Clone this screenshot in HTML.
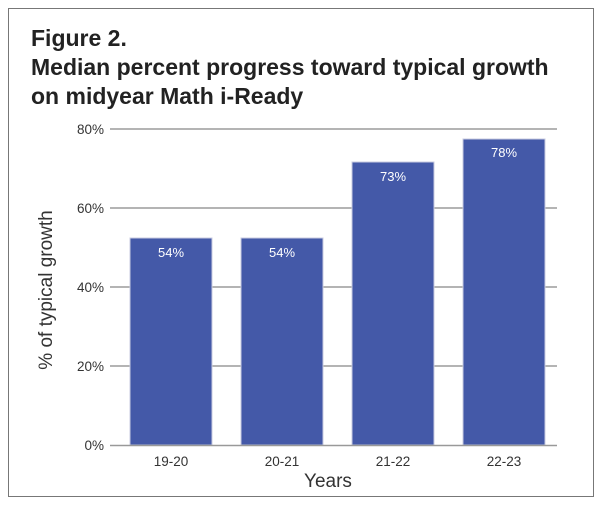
<!DOCTYPE html>
<html><head><style>
body{margin:0;background:#fff;width:600px;height:506px;overflow:hidden}
</style></head><body>
<svg width="600" height="506" xmlns="http://www.w3.org/2000/svg" font-family="Liberation Sans, sans-serif">
<rect x="8.5" y="8.5" width="585" height="488" fill="#fff" stroke="#777" stroke-width="1"/>
<g font-weight="bold" fill="#222" font-size="23">
<text x="31" y="46">Figure 2.</text>
<text x="31" y="75">Median percent progress toward typical growth</text>
<text x="31" y="104">on midyear Math i-Ready</text>
</g>
<g stroke="#888" stroke-width="1.2">
<line x1="110" y1="129" x2="557" y2="129"/>
<line x1="110" y1="208" x2="557" y2="208"/>
<line x1="110" y1="287" x2="557" y2="287"/>
<line x1="110" y1="366" x2="557" y2="366"/>
</g>
<g fill="#4459a8" stroke="#c8cbe0" stroke-width="1">
<rect x="130" y="238" width="82" height="207"/>
<rect x="241" y="238" width="82" height="207"/>
<rect x="352" y="162" width="82" height="283"/>
<rect x="463" y="139" width="82" height="306"/>
</g>
<line x1="110" y1="445.5" x2="557" y2="445.5" stroke="#999" stroke-width="1.5"/>
<g fill="#fff" font-size="13" text-anchor="middle">
<text x="171" y="257">54%</text><text x="282" y="257">54%</text>
<text x="393" y="181">73%</text><text x="504" y="157">78%</text>
</g>
<g fill="#333" font-size="13.5" text-anchor="end">
<text x="104" y="134">80%</text><text x="104" y="213">60%</text>
<text x="104" y="292">40%</text><text x="104" y="371">20%</text>
<text x="104" y="450">0%</text>
</g>
<g fill="#333" font-size="13.5" text-anchor="middle">
<text x="171" y="466">19-20</text><text x="282" y="466">20-21</text>
<text x="393" y="466">21-22</text><text x="504" y="466">22-23</text>
</g>
<text x="328" y="487" font-size="19" fill="#333" text-anchor="middle">Years</text>
<text transform="translate(52,290) rotate(-90)" font-size="19" fill="#333" text-anchor="middle">% of typical growth</text>
</svg>
</body></html>
